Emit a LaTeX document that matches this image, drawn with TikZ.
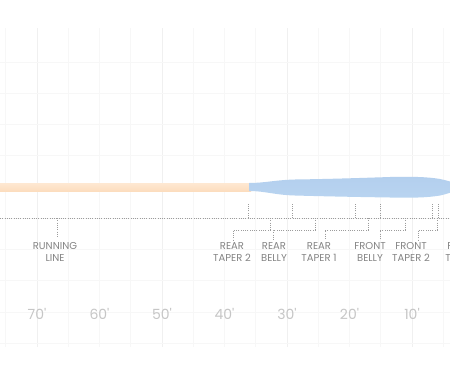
\documentclass[tikz,border=0pt]{standalone}
\usepackage{fontspec}
\setmainfont{Poppins}
\definecolor{gridminor}{HTML}{F7F7F7}
\definecolor{gridmajor}{HTML}{F0F0F0}
\definecolor{dotc}{HTML}{9C9C9C}
\definecolor{lblc}{HTML}{848484}
\definecolor{distc}{HTML}{C6C6C6}
\definecolor{peachtop}{HTML}{FEE8D2}
\definecolor{peachbot}{HTML}{FCDDBE}
\definecolor{bluetop}{HTML}{B3CFEE}
\definecolor{bluemid}{HTML}{D6E8F9}
\definecolor{bluebot}{HTML}{B9D4F0}
\tikzset{
  gridline/.style={draw=gridminor, line width=0.8pt},
  gridbold/.style={draw=gridmajor, line width=0.9pt},
  dotl/.style={draw=dotc, line width=0.75pt, dash pattern=on 0.8pt off 1.45pt},
  lbl/.style={text=lblc, font=\fontsize{10}{12.5}\selectfont, align=center, inner sep=0pt, anchor=north},
  dist/.style={text=distc, font=\fontsize{14}{16}\selectfont, inner sep=0pt}
}
\begin{document}
\begin{tikzpicture}[x=1pt,y=-1pt]
\useasboundingbox (0,0) rectangle (450,375);
\clip (0,0) rectangle (450,375);
\fill[white] (0,0) rectangle (450,375);
% grid
\foreach \k in {-1,...,13} {
  \draw[gridline] ({37+31.25*\k},28) -- ({37+31.25*\k},347);
}
\foreach \k in {0,4,8,12} {
  \draw[gridbold] ({37+31.25*\k},28) -- ({37+31.25*\k},347);
}
\foreach \y in {62,93.25,124.5,155.75,187,218.25,249.5,280.75,312,343.25} {
  \draw[gridline] (0,\y) -- (450,\y);
}
% running line
\shade[top color=peachtop, bottom color=peachbot] (-5,183) rectangle (251,191);
% head
\shade[top color=bluetop, middle color=bluemid, bottom color=bluebot]
  (249,183) .. controls (265,183) and (275,180) .. (295,179.5)
  .. controls (330,179) and (360,178) .. (390,177)
  .. controls (415,176.5) and (428,177) .. (440,179)
  .. controls (447,180.5) and (452,182) .. (458,184)
  -- (458,190)
  .. controls (452,192) and (447,194) .. (440,195.5)
  .. controls (428,197.5) and (415,198) .. (390,197.5)
  .. controls (360,197) and (330,196.5) .. (295,195.5)
  .. controls (275,195) and (265,191) .. (249,191) -- cycle;
% main dotted line
\coordinate (L0) at (0,218);
\coordinate (L1) at (450,218);
\draw[dotl] (L0) -- (L1);
% section ticks
\foreach \n/\x in {t1/248,t2/292,t3/355,t4/380,t5/432,t6/438} {
  \coordinate (\n) at (\x,218);
  \draw[dotl] (\n) -- ++(0,-14);
}
% labels
\node[lbl] (rl)  at (55,242)  {RUNNING\\LINE};
\node[lbl] (rt2) at (232,242) {REAR\\TAPER 2};
\node[lbl] (rb)  at (274,242) {REAR\\BELLY};
\node[lbl] (rt1) at (319,242) {REAR\\TAPER 1};
\node[lbl] (fb)  at (370,242) {FRONT\\BELLY};
\node[lbl] (ft2) at (411,242) {FRONT\\TAPER 2};
\node[lbl] (ft1) at (463,242) {FRONT\\TAPER 1};
% section points
\coordinate (mrl)  at (57,218);
\coordinate (mrt2) at (270,218);
\coordinate (mrb)  at (315,218);
\coordinate (mrt1) at (368,218);
\coordinate (mfb)  at (405,218);
\coordinate (mft2) at (437,218);
\coordinate (mft1) at (478,218);
% connectors
\draw[dotl] (mrl) -- ([xshift=2pt,yshift=5pt]rl.north);
\draw[dotl] (mrt2) -- ++(0,12) -| ([xshift=1pt,yshift=2pt]rt2.north);
\draw[dotl] (mrb)  -- ++(0,12) -| ([xshift=-1pt,yshift=2pt]rb.north);
\draw[dotl] (mrt1) -- ++(0,12) -| ([xshift=6pt,yshift=2pt]rt1.north);
\draw[dotl] (mfb)  -- ++(0,12) -| ([xshift=10pt,yshift=2pt]fb.north);
\draw[dotl] (mft2) -- ++(0,12) -| ([xshift=7pt,yshift=2pt]ft2.north);
\draw[dotl] (mft1) -- ++(0,12) -| ([xshift=-8pt,yshift=2pt]ft1.north);
% distances
\node[dist] (d70) at (37,314)  {70\textquotesingle};
\node[dist] (d60) at (99.5,314)  {60\textquotesingle};
\node[dist] (d50) at (162,314) {50\textquotesingle};
\node[dist] (d40) at (224.5,314) {40\textquotesingle};
\node[dist] (d30) at (287,314) {30\textquotesingle};
\node[dist] (d20) at (349.5,314) {20\textquotesingle};
\node[dist] (d10) at (412,314) {10\textquotesingle};
\end{tikzpicture}
\end{document}
